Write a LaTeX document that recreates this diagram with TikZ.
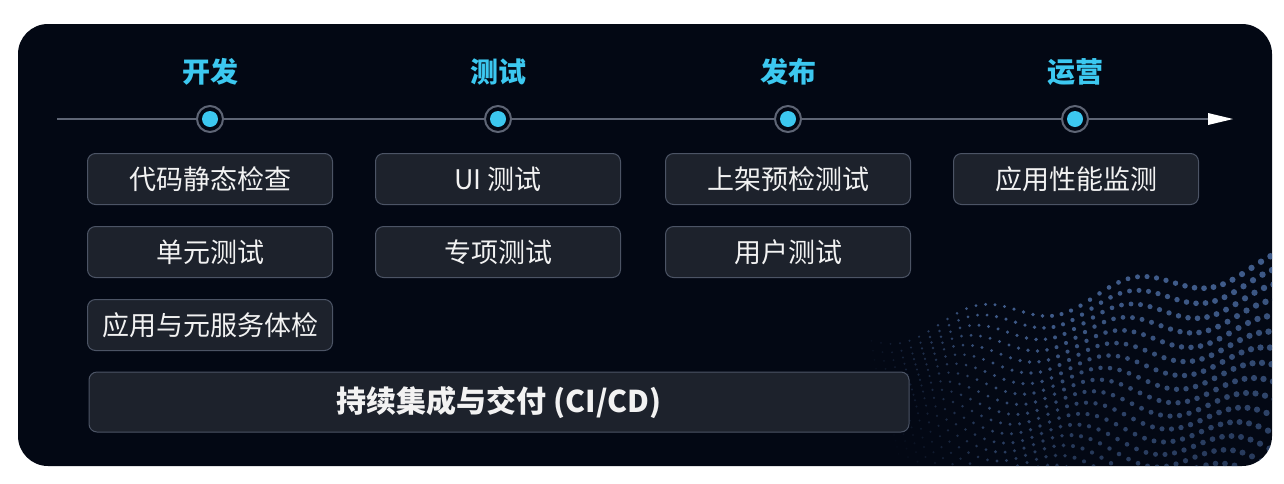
\documentclass[tikz,border=0pt]{standalone}
\usepackage{fontspec}
\setmainfont{Noto Sans CJK SC}
\definecolor{panelbg}{HTML}{030814}
\definecolor{boxbg}{HTML}{1D222C}
\definecolor{boxline}{HTML}{4C5465}
\definecolor{stagecyan}{HTML}{3CC8F0}
\definecolor{axisgray}{HTML}{5E6575}
\definecolor{wavedot}{HTML}{4A6A9F}
\tikzset{
  taskbox/.style={draw=boxline, fill=boxbg, line width=1pt, rounded corners=8pt,
    minimum width=245pt, minimum height=51pt, text=white!90!gray,
    font=\fontsize{27}{30}\selectfont, inner sep=0pt},
  stagelabel/.style={text=stagecyan, font=\fontsize{28}{32}\selectfont\bfseries},
  stagedot/.style={circle, draw=axisgray, line width=2pt, fill=panelbg, minimum size=26pt, inner sep=0pt},
  stagecore/.style={circle, fill=stagecyan, minimum size=16pt, inner sep=0pt}
}
\begin{document}
\begin{tikzpicture}[x=1pt,y=-1pt]
  \useasboundingbox (0,0) rectangle (1284,483);
  \fill[white] (0,0) rectangle (1284,483);
  \fill[panelbg, rounded corners=30pt] (18,24) rectangle (1272,466);

  % dotted wave, lower right
  \begin{scope}
    \clip[rounded corners=30pt] (18,24) rectangle (1272,466);
    \foreach \i in {0,...,44}{
      \foreach \j in {0,...,18}{
        \fill[wavedot, opacity={min(1,\i/12)*(0.85-0.45*\j/18)}]
          ({862+\i*9.5+\j*1.5}, {338-\i*1.7+\j*(7+\i*0.2)+12*sin(\i*22+\j*14)})
          circle ({0.9+\i*0.055});
      }
    }
  \end{scope}

  % time axis
  \coordinate (axisstart) at (57,119);
  \coordinate (axisend) at (1233,119);
  \draw[axisgray, line width=1.2pt] (axisstart) -- (1210,119);
  \fill[white] (1208,113) -- (axisend) -- (1208,125) -- cycle;

  \foreach \name/\xpos in {dev/210, test/498, rel/788, ops/1075}{
    \node[stagedot] (\name) at (\xpos,119) {};
    \node[stagecore] at (\name) {};
  }

  \node[stagelabel] (devlabel) at (210,72) {开发};
  \node[stagelabel] (testlabel) at (498,72) {测试};
  \node[stagelabel] (rellabel) at (788,72) {发布};
  \node[stagelabel] (opslabel) at (1075,72) {运营};

  % tasks
  \node[taskbox] (static) at (210,179) {代码静态检查};
  \node[taskbox] (unit) at (210,252) {单元测试};
  \node[taskbox] (health) at (210,325) {应用与元服务体检};
  \node[taskbox] (uitest) at (498,179) {UI 测试};
  \node[taskbox] (special) at (498,252) {专项测试};
  \node[taskbox] (precheck) at (788,179) {上架预检测试};
  \node[taskbox] (usertest) at (788,252) {用户测试};
  \node[taskbox] (monitor) at (1076,179) {应用性能监测};

  \node[taskbox, minimum width=820pt, minimum height=60pt,
    font=\fontsize{30}{34}\selectfont\bfseries] (cicd) at (499,402) {持续集成与交付 (CI/CD)};
\end{tikzpicture}
\end{document}
